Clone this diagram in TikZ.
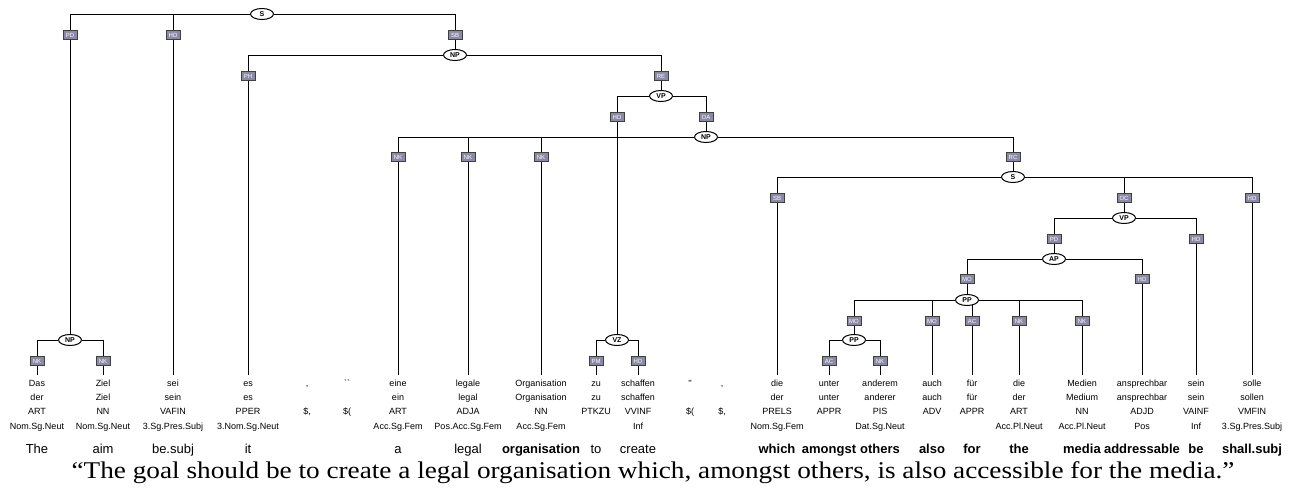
\documentclass[tikz,border=0pt]{standalone}
\usepackage{fontspec}
\setmainfont{Liberation Serif}
\setsansfont{Liberation Sans}
\usetikzlibrary{shapes.geometric,backgrounds}
\definecolor{labfill}{HTML}{8A8AA6}
\tikzset{
  phrase/.style={ellipse,draw,line width=1pt,fill=white,inner sep=0pt,minimum width=23pt,minimum height=11pt,font=\sffamily\bfseries\fontsize{7}{7}\selectfont},
  edgelab/.style={draw=black!75,line width=0.8pt,fill=labfill,inner sep=0pt,minimum width=14pt,minimum height=8.5pt,font=\sffamily\fontsize{6}{6}\selectfont,text=white},
  tok/.style={anchor=base,inner sep=0pt,text height=7pt,text depth=2pt,font=\sffamily\fontsize{9}{9}\selectfont},
  gloss/.style={anchor=base,inner sep=0pt,font=\sffamily\fontsize{13}{13}\selectfont},
  leaf/.style={shorten >=4pt}
}
\begin{document}
\begin{tikzpicture}[x=1pt,y=-1pt,line width=1.2pt]
    \useasboundingbox (0,0) rectangle (1307,495);
    \foreach \x/\w/\l/\p/\m/\g [count=\i] in {
        37/Das/der/ART/Nom.Sg.Neut/The,
        103/Ziel/Ziel/NN/Nom.Sg.Neut/aim,
        173/sei/sein/VAFIN/3.Sg.Pres.Subj/be.subj,
        248/es/es/PPER/3.Nom.Sg.Neut/it,
        307/{,}/{}/{\$,}/{}/{},
        347/\textasciigrave\textasciigrave/{}/\$(/{}/{},
        398/eine/ein/ART/Acc.Sg.Fem/a,
        468/legale/legal/ADJA/Pos.Acc.Sg.Fem/legal,
        541/Organisation/Organisation/NN/Acc.Sg.Fem/\textbf{organisation},
        596/zu/zu/PTKZU/{}/to,
        638/schaffen/schaffen/VVINF/Inf/create,
        690/\textquotesingle\textquotesingle/{}/\$(/{}/{},
        722/{,}/{}/{\$,}/{}/{},
        777/die/der/PRELS/Nom.Sg.Fem/\textbf{which},
        829/unter/unter/APPR/{}/\textbf{amongst},
        880/anderem/anderer/PIS/Dat.Sg.Neut/\textbf{others},
        932/auch/auch/ADV/{}/\textbf{also},
        972/für/für/APPR/{}/\textbf{for},
        1019/die/der/ART/Acc.Pl.Neut/\textbf{the},
        1082/Medien/Medium/NN/Acc.Pl.Neut/\textbf{media},
        1142/ansprechbar/ansprechbar/ADJD/Pos/\textbf{addressable},
        1196/sein/sein/VAINF/Inf/\textbf{be},
        1252/solle/sollen/VMFIN/3.Sg.Pres.Subj/\textbf{shall.subj}}
    {
        \node[tok] (w\i) at (\x,386.5) {\w};
        \node[tok] (l\i) at (\x,400.5) {\l};
        \node[tok] (p\i) at (\x,414.5) {\p};
        \node[tok] (m\i) at (\x,429.5) {\m};
        \node[gloss] (g\i) at (\x,453) {\g};
    }
    \node[anchor=base,font=\fontsize{24}{24}\selectfont,inner sep=0pt,xscale=1.135,transform shape] (trans) at (653,478) {“The goal should be to create a legal organisation which, amongst others, is also accessible for the media.”};

    \node[phrase] (s1) at (262,14) {S};
    \node[phrase] (np1) at (455,55) {NP};
    \node[phrase] (vp1) at (661,96) {VP};
    \node[phrase] (np2) at (706,137) {NP};
    \node[phrase] (s2) at (1013,177) {S};
    \node[phrase] (vp2) at (1124,218) {VP};
    \node[phrase] (ap1) at (1054,259) {AP};
    \node[phrase] (pp1) at (967,300) {PP};
    \node[phrase] (pp2) at (854,340) {PP};
    \node[phrase] (vz1) at (617,340) {VZ};
    \node[phrase] (np3) at (70,340) {NP};

    \node[edgelab] (pd1) at (70,35) {PD};
    \node[edgelab] (hd1) at (173,35) {HD};
    \node[edgelab] (sb1) at (455,35) {SB};
    \node[edgelab] (ph1) at (248,76) {PH};
    \node[edgelab] (re1) at (661,76) {RE};
    \node[edgelab] (hd2) at (617,117) {HD};
    \node[edgelab] (oa1) at (706,117) {OA};
    \node[edgelab] (nk1) at (398,157) {NK};
    \node[edgelab] (nk2) at (468,157) {NK};
    \node[edgelab] (nk3) at (541,157) {NK};
    \node[edgelab] (rc1) at (1013,157) {RC};
    \node[edgelab] (sb2) at (777,198) {SB};
    \node[edgelab] (oc1) at (1124,198) {OC};
    \node[edgelab] (hd3) at (1252,198) {HD};
    \node[edgelab] (pd2) at (1054,239) {PD};
    \node[edgelab] (hd4) at (1196,239) {HD};
    \node[edgelab] (mo1) at (967,279) {MO};
    \node[edgelab] (hd5) at (1142,279) {HD};
    \node[edgelab] (mo2) at (854,321) {MO};
    \node[edgelab] (mo3) at (932,321) {MO};
    \node[edgelab] (ac1) at (972,321) {AC};
    \node[edgelab] (nk4) at (1019,321) {NK};
    \node[edgelab] (nk5) at (1082,321) {NK};
    \node[edgelab] (ac2) at (829,361) {AC};
    \node[edgelab] (nk6) at (880,361) {NK};
    \node[edgelab] (pm1) at (596,361) {PM};
    \node[edgelab] (hd6) at (638,361) {HD};
    \node[edgelab] (nk7) at (37,361) {NK};
    \node[edgelab] (nk8) at (103,361) {NK};

    \begin{scope}[on background layer]
        \draw (s1) -| (pd1) (s1) -| (hd1) (s1) -| (sb1);
        \draw (pd1) -- (np3);
        \draw[leaf] (hd1) -- (w3.north);
        \draw (sb1) -- (np1);
        \draw (np1) -| (ph1) (np1) -| (re1);
        \draw[leaf] (ph1) -- (w4.north);
        \draw (re1) -- (vp1);
        \draw (vp1) -| (hd2) (vp1) -| (oa1);
        \draw (hd2) -- (vz1) (oa1) -- (np2);
        \draw (np2) -| (nk1) (np2) -| (nk2) (np2) -| (nk3) (np2) -| (rc1);
        \draw[leaf] (nk1) -- (w7.north);
        \draw[leaf] (nk2) -- (w8.north);
        \draw[leaf] (nk3) -- (w9.north);
        \draw (rc1) -- (s2);
        \draw (s2) -| (sb2) (s2) -| (oc1) (s2) -| (hd3);
        \draw[leaf] (sb2) -- (w14.north);
        \draw[leaf] (hd3) -- (w23.north);
        \draw (oc1) -- (vp2);
        \draw (vp2) -| (pd2) (vp2) -| (hd4);
        \draw (pd2) -- (ap1);
        \draw[leaf] (hd4) -- (w22.north);
        \draw (ap1) -| (mo1) (ap1) -| (hd5);
        \draw (mo1) -- (pp1);
        \draw[leaf] (hd5) -- (w21.north);
        \draw (pp1) -| (mo2) (pp1) -| (mo3) (pp1) -| (ac1) (pp1) -| (nk4) (pp1) -| (nk5);
        \draw (mo2) -- (pp2);
        \draw[leaf] (mo3) -- (w17.north);
        \draw[leaf] (ac1) -- (w18.north);
        \draw[leaf] (nk4) -- (w19.north);
        \draw[leaf] (nk5) -- (w20.north);
        \draw (pp2) -| (ac2) (pp2) -| (nk6);
        \draw[leaf] (ac2) -- (w15.north);
        \draw[leaf] (nk6) -- (w16.north);
        \draw (vz1) -| (pm1) (vz1) -| (hd6);
        \draw[leaf] (pm1) -- (w10.north);
        \draw[leaf] (hd6) -- (w11.north);
        \draw (np3) -| (nk7) (np3) -| (nk8);
        \draw[leaf] (nk7) -- (w1.north);
        \draw[leaf] (nk8) -- (w2.north);
    \end{scope}
\end{tikzpicture}
\end{document}
